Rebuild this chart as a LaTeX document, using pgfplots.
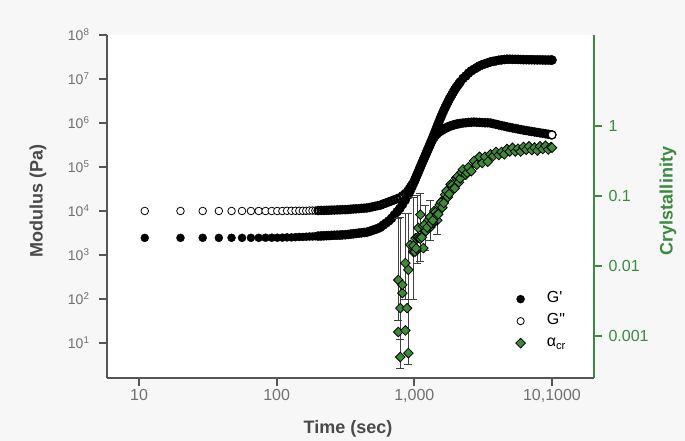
\documentclass[border=0pt]{standalone}
\usepackage{fontspec}
\setmainfont{Liberation Sans}
\usepackage{pgfplots}
\pgfplotsset{compat=1.18}
\usepackage{pgfplotstable}
\definecolor{bgc}{HTML}{F7F7F7}
\definecolor{axgray}{HTML}{555555}
\definecolor{tickgray}{HTML}{707070}
\definecolor{labgray}{HTML}{4A4A4A}
\definecolor{crgreen}{HTML}{3A8A3F}
\definecolor{dmgreen}{HTML}{3D8B37}

% storage (G') and loss (G'') modulus vs time, early sparse part
\pgfplotstableread{
t Gp Gpp
11 2.45e3 1.00e4
20 2.45e3 1.00e4
29 2.46e3 1.00e4
38 2.45e3 1.00e4
47 2.46e3 1.00e4
56 2.45e3 1.00e4
65 2.46e3 1.00e4
74 2.46e3 1.00e4
83 2.47e3 1.00e4
92 2.47e3 1.00e4
101 2.47e3 1.00e4
110 2.48e3 1.00e4
119 2.51e3 1.01e4
128 2.51e3 1.01e4
137 2.54e3 1.01e4
146 2.57e3 1.01e4
155 2.57e3 1.01e4
164 2.60e3 1.01e4
173 2.63e3 1.02e4
182 2.63e3 1.02e4
191 2.66e3 1.02e4
}\modearly

% later, dense part
\pgfplotstableread{
t Gp Gpp
200 2.69e3 1.02e4
210 2.71e3 1.03e4
220 2.73e3 1.03e4
230 2.75e3 1.04e4
240 2.77e3 1.04e4
250 2.79e3 1.05e4
262 2.81e3 1.05e4
275 2.82e3 1.06e4
288 2.84e3 1.06e4
300 2.86e3 1.07e4
315 2.88e3 1.07e4
330 2.93e3 1.08e4
345 2.98e3 1.10e4
360 3.03e3 1.11e4
377 3.08e3 1.12e4
395 3.14e3 1.13e4
413 3.19e3 1.15e4
432 3.24e3 1.16e4
452 3.30e3 1.17e4
473 3.44e3 1.20e4
495 3.62e3 1.24e4
518 3.80e3 1.28e4
542 4.00e3 1.32e4
568 4.27e3 1.36e4
595 4.79e3 1.45e4
623 5.32e3 1.52e4
652 5.94e3 1.61e4
683 6.82e3 1.70e4
715 8.09e3 1.80e4
749 9.61e3 1.90e4
784 1.14e4 2.01e4
821 1.41e4 2.22e4
860 1.78e4 2.50e4
900 2.28e4 2.88e4
921 2.66e4 3.21e4
942 3.10e4 3.56e4
964 3.63e4 3.97e4
986 4.24e4 4.42e4
1010 5.03e4 5.21e4
1033 5.97e4 6.14e4
1057 7.10e4 7.22e4
1081 8.41e4 8.49e4
1106 1.00e5 1.00e5
1132 1.19e5 1.18e5
1158 1.41e5 1.39e5
1185 1.67e5 1.63e5
1213 1.99e5 1.92e5
1241 2.36e5 2.25e5
1270 2.80e5 2.65e5
1300 3.32e5 3.11e5
1330 3.94e5 3.65e5
1361 4.68e5 4.29e5
1393 5.61e5 4.72e5
1425 6.73e5 5.19e5
1458 8.09e5 5.61e5
1492 9.72e5 6.05e5
1527 1.16e6 6.35e5
1562 1.38e6 6.65e5
1599 1.64e6 6.95e5
1636 1.93e6 7.26e5
1674 2.24e6 7.55e5
1713 2.61e6 7.83e5
1753 3.01e6 8.11e5
1793 3.48e6 8.39e5
1835 3.94e6 8.59e5
1878 4.47e6 8.79e5
1921 5.06e6 8.99e5
1966 5.73e6 9.20e5
2012 6.37e6 9.35e5
2059 7.06e6 9.51e5
2107 7.78e6 9.64e5
2156 8.57e6 9.77e5
2257 1.03e7 1.00e6
2363 1.17e7 1.01e6
2475 1.36e7 1.03e6
2591 1.53e7 1.04e6
2713 1.67e7 1.05e6
2841 1.82e7 1.04e6
2975 1.98e7 1.03e6
3115 2.11e7 1.02e6
3261 2.22e7 1.01e6
3415 2.33e7 1.01e6
3576 2.45e7 1.00e6
3744 2.52e7 9.64e5
3920 2.59e7 9.33e5
4105 2.67e7 9.02e5
4298 2.72e7 8.73e5
4500 2.77e7 8.45e5
4712 2.81e7 8.18e5
4934 2.81e7 7.94e5
5167 2.80e7 7.71e5
5410 2.79e7 7.50e5
5665 2.78e7 7.29e5
5931 2.77e7 7.08e5
6211 2.75e7 6.89e5
6503 2.75e7 6.73e5
6809 2.74e7 6.56e5
7130 2.74e7 6.41e5
7466 2.73e7 6.25e5
7817 2.72e7 6.11e5
8185 2.72e7 5.97e5
8571 2.71e7 5.82e5
8974 2.70e7 5.69e5
9397 2.70e7 5.55e5
9840 2.69e7 5.42e5
10000 2.69e7 5.37e5
}\modlate

% crystallinity (no error bar shown)
\pgfplotstableread{
t c
765 1.14e-3
860 1.2e-3
885 2.5e-3
818 4.1e-3
818 5.4e-3
905 8.8e-3
935 2.0e-2
1020 2.5e-2
1070 3.5e-2
1162 1.8e-2
1245 4.26e-2
1374 4.1e-2
1420 5.9e-2
1610 8.7e-2
986 0.0195
1010 0.0160
1033 0.0178
1057 0.0257
1081 0.0251
1106 0.0245
1132 0.0257
1158 0.0372
1185 0.0389
1213 0.0316
1241 0.0355
1270 0.0457
1300 0.0501
1330 0.0407
1361 0.0447
1393 0.0610
1425 0.0589
1458 0.0537
1492 0.0550
1527 0.0750
1562 0.0813
1599 0.0684
1636 0.0794
1674 0.1047
1713 0.1175
1753 0.0966
1793 0.1072
1835 0.1462
1878 0.1413
1921 0.1274
1966 0.1288
2012 0.1799
2059 0.1905
2107 0.1567
2156 0.1778
2205 0.2188
2257 0.2399
2363 0.2018
2418 0.2148
2475 0.2570
2591 0.2265
2713 0.3162
2841 0.2786
2975 0.3631
3115 0.2951
3261 0.3631
3415 0.3090
3576 0.3936
3744 0.3715
3920 0.4266
4105 0.3846
4298 0.4266
4500 0.3936
4712 0.4677
4934 0.4335
5167 0.4875
5410 0.4335
5665 0.4742
5931 0.4315
6211 0.5012
6503 0.4592
6809 0.5117
7130 0.4519
7466 0.4920
7817 0.4446
8185 0.5117
8571 0.4677
8974 0.5200
9397 0.4603
9840 0.5000
10000 0.4898
}\cryst

% early crystallinity points with error bars
\pgfplotstableread{
t c ep em
791 5.0e-4 0.0485 1.5e-4
905 5.7e-4 0.0564 1.8e-4
791 2.5e-3 0.0465 1.6e-3
765 6.3e-3 0.041 4.6e-3
860 1.1e-2 0.046 7.7e-3
983 1.6e-2 0.081 1.27e-2
1052 1.7e-2 0.086 6.0e-3
1106 5.4e-2 0.056 4.25e-2
1202 3.1e-2 0.043 1.4e-2
1307 3.6e-2 0.052 1.3e-2
1469 4.5e-2 0.018 1.7e-2
}\onset

\begin{document}
\begin{tikzpicture}
\fill[bgc] (-107pt,-63pt) rectangle (578pt,378pt);
\begin{axis}[
  scale only axis, width=487pt, height=343pt,
  xmode=log, ymode=log,
  xmin=5.85, xmax=20200, ymin=1.6, ymax=1e8,
  axis x line*=bottom, axis y line*=left,
  axis line style={-, line width=2.2pt, axgray},
  axis background/.style={fill=white},
  xtick={10,100,1000,10000},
  xticklabels={10,100,{1,000},{10,1000}},
  ytick={1e1,1e2,1e3,1e4,1e5,1e6,1e7,1e8},
  yticklabels={10\textsuperscript{1},10\textsuperscript{2},10\textsuperscript{3},10\textsuperscript{4},10\textsuperscript{5},10\textsuperscript{6},10\textsuperscript{7},10\textsuperscript{8}},
  minor tick style={draw=none},
  tick align=outside, major tick length=8pt,
  major tick style={line width=2pt, axgray},
  xticklabel style={font=\fontsize{16}{16}\selectfont, tickgray},
  yticklabel style={font=\fontsize{14}{14}\selectfont, tickgray, xshift=-6pt},
  every axis y label/.style={at={(axis description cs:-0.1417,0.516)}, rotate=90, anchor=center},
  every axis x label/.style={at={(axis description cs:0.495,-0.149)}, anchor=center},
  label style={font=\fontsize{18}{18}\selectfont\bfseries, labgray},
  xlabel={Time (sec)},
  ylabel={Modulus (Pa)},
]
\addplot[only marks, mark=*, mark size=4pt, black] table[x=t, y=Gp]{\modearly};
\addplot[only marks, mark=*, mark size=4.6pt, black] table[x=t, y=Gp]{\modlate};
\addplot[only marks, mark=*, mark size=3.8pt, mark options={line width=0.8pt, draw=black, fill=white}] table[x=t, y=Gpp]{\modearly};
\addplot[only marks, mark=o, mark size=3.6pt, mark options={line width=2.2pt, draw=black, fill=none}] table[x=t, y=Gpp]{\modlate};
\addplot[only marks, mark=*, mark size=3.8pt, mark options={line width=0.8pt, draw=black, fill=white}] coordinates {(10000,5.37e5)};
\end{axis}
\begin{axis}[
  scale only axis, width=487pt, height=343pt,
  xmode=log, ymode=log,
  xmin=5.85, xmax=20200, ymin=2.51e-4, ymax=19.95,
  axis x line=none, axis y line*=right,
  axis line style={-, line width=2.2pt, crgreen},
  ytick={0.001,0.01,0.1,1},
  yticklabels={0.001,0.01,0.1,1},
  minor tick style={draw=none},
  tick align=outside, major tick length=8pt,
  major tick style={line width=2pt, crgreen},
  yticklabel style={font=\fontsize{16}{16}\selectfont, crgreen, xshift=3pt},
  every axis y label/.style={at={(axis description cs:1.152,0.516)}, rotate=90, anchor=center},
  label style={font=\fontsize{18}{18}\selectfont\bfseries, crgreen},
  ylabel={Crylstallinity},
  legend image code/.code={\path (-6pt,0pt) (24pt,0pt); \draw[#1] plot coordinates {(0pt,0pt)};},
  legend style={at={(axis description cs:0.83,0.264)}, anchor=north west,
    draw=none, fill=none, font=\fontsize{16}{16}\selectfont, row sep=3pt,
    nodes={inner sep=2pt, text height=11pt, text depth=4pt}},
  legend cell align=left,
]
\addlegendimage{only marks, mark=*, mark size=4pt, black}
\addlegendentry{G\textquotesingle}
\addlegendimage{only marks, mark=o, mark size=3.6pt, mark options={line width=0.8pt, draw=black}}
\addlegendentry{G\textquotedbl}
\addplot[only marks, mark=square*, mark size=3.4pt,
  mark options={rotate=45, fill=dmgreen, draw=black, line width=0.8pt},
  error bars/.cd, y dir=both, y explicit,
  error bar style={line width=0.7pt, black!75},
  error mark options={rotate=90, mark size=4pt, line width=0.7pt, black!75}]
  table[x=t, y=c, y error plus=ep, y error minus=em]{\onset};
\addlegendentry{α\textsubscript{cr}}
\addplot[only marks, mark=square*, mark size=3.4pt, forget plot,
  mark options={rotate=45, fill=dmgreen, draw=black, line width=0.8pt}]
  table[x=t, y=c]{\cryst};
\end{axis}
\pgfresetboundingbox
\path (-107pt,-63pt) rectangle (578pt,378pt);
\end{tikzpicture}
\end{document}
